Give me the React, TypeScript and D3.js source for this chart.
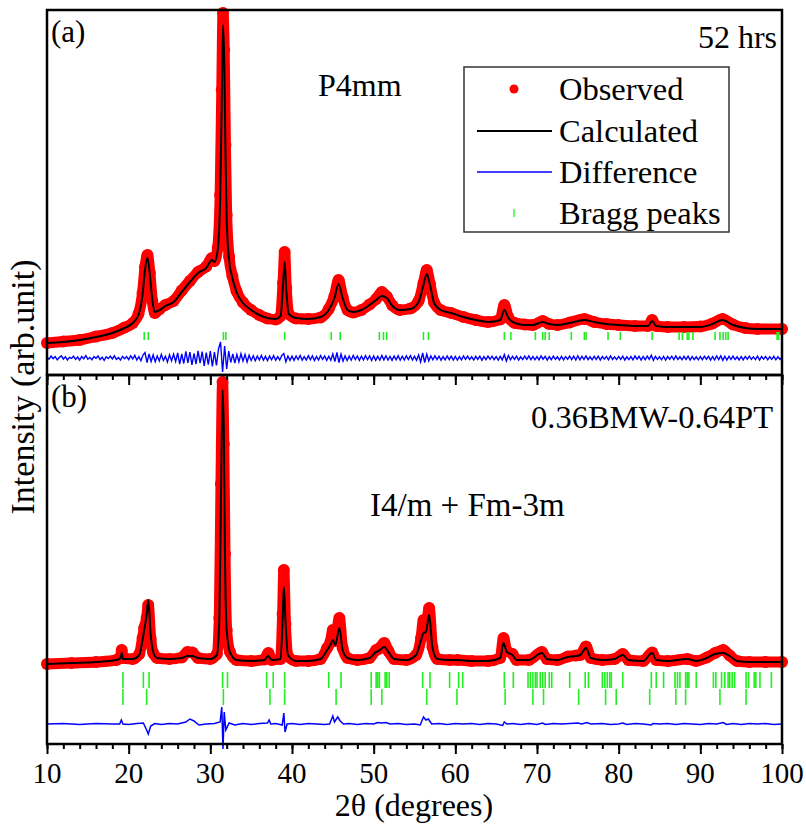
import React, { useEffect, useRef } from "react";
import * as d3 from "d3";

// ---------- DATA ----------
// [2θ, calculated, observed] for panel (a)
const topProfile: number[][] = [
  [10, 320, 320], [12, 330, 335], [14, 350, 350], [16, 380, 385], [18, 420, 420],
  [19.5, 470, 475], [20.5, 520, 520], [21.2, 600, 610], [21.7, 800, 820], [22.0, 1050, 1080],
  [22.3, 1170, 1200], [22.6, 1000, 1020], [22.9, 750, 740], [23.2, 630, 620], [23.8, 650, 660],
  [24.5, 690, 700], [25.5, 730, 740], [26.5, 830, 845], [27.5, 930, 940], [28.5, 1020, 1030],
  [29.5, 1070, 1085], [30.2, 1150, 1170], [30.5, 1130, 1140], [30.9, 1250, 1270], [31.2, 1750, 1800],
  [31.4, 2750, 2850], [31.55, 3500, 3620], [31.7, 3150, 3250], [31.85, 2250, 2300], [32.0, 1550, 1600],
  [32.3, 1150, 1180], [32.7, 970, 990], [33.2, 830, 840], [34, 720, 725], [35, 650, 650],
  [36, 600, 600], [37, 570, 565], [38, 560, 555], [38.6, 590, 590], [38.9, 900, 920],
  [39.1, 1130, 1230], [39.3, 850, 870], [39.6, 610, 610], [40.5, 570, 565], [42, 560, 560],
  [43.5, 580, 575], [44.5, 650, 660], [45.2, 770, 790], [45.7, 910, 950], [46.2, 770, 780],
  [46.8, 650, 650], [47.5, 630, 625], [48.5, 650, 650], [49.5, 700, 705], [50.3, 750, 760],
  [51.0, 790, 830], [51.6, 770, 785], [52.3, 690, 695], [53.2, 650, 650], [54.5, 660, 665],
  [55.5, 730, 740], [56.1, 900, 920], [56.5, 1010, 1050], [56.9, 900, 910], [57.4, 720, 725],
  [58.2, 650, 650], [59.5, 620, 620], [61, 580, 580], [62.5, 550, 550], [64, 530, 530],
  [65.5, 550, 555], [66.0, 650, 700], [66.5, 570, 575], [67.3, 520, 520], [68.5, 500, 505],
  [69.5, 500, 500], [70.7, 530, 540], [71.5, 510, 510], [72.5, 500, 500], [74, 520, 525],
  [75.8, 550, 560], [77, 530, 530], [78.5, 510, 510], [80, 500, 500], [82, 490, 490],
  [83.6, 490, 490], [84.1, 540, 550], [84.6, 490, 490], [86, 480, 480], [88, 480, 480],
  [90, 480, 485], [91.5, 510, 515], [92.7, 550, 560], [94, 500, 505], [95.5, 470, 470],
  [97, 460, 460], [100, 460, 460],
];

// [2θ, calculated, observed] for panel (b)
const botProfile: number[][] = [
  [10, 800, 800], [13, 810, 810], [16, 820, 820], [18.5, 840, 840], [19.0, 860, 870],
  [19.15, 910, 940], [19.3, 850, 860], [20.5, 850, 850], [21.3, 890, 900], [21.7, 1040, 1060],
  [21.9, 1140, 1160], [22.2, 1290, 1260], [22.4, 1440, 1390], [22.7, 1090, 1050], [23.0, 920, 910],
  [23.5, 860, 860], [25, 850, 850], [26.5, 860, 865], [27.2, 880, 920], [27.8, 880, 915],
  [28.5, 860, 860], [30, 850, 850], [30.8, 890, 900], [31.1, 1240, 1260], [31.3, 2440, 2600],
  [31.5, 3540, 3620], [31.65, 3140, 3000], [31.8, 1840, 1900], [32.0, 1140, 1140], [32.4, 920, 920],
  [33.2, 840, 840], [35, 830, 830], [36.6, 840, 845], [37.1, 880, 910], [37.5, 840, 840],
  [38.6, 850, 850], [38.85, 1240, 1300], [39.0, 1570, 1740], [39.2, 1240, 1200], [39.5, 890, 880],
  [40.5, 830, 830], [42, 830, 830], [43.5, 850, 850], [44.3, 940, 960], [44.7, 990, 1020],
  [45.0, 1040, 1140], [45.3, 990, 1030], [45.8, 1160, 1260], [46.2, 940, 960], [46.8, 860, 860],
  [48, 840, 840], [49.5, 860, 860], [50.3, 920, 940], [50.6, 930, 950], [51.3, 970, 1010],
  [51.8, 920, 930], [52.5, 850, 850], [54, 840, 840], [55.2, 890, 890], [55.8, 1040, 1060],
  [56.1, 1110, 1240], [56.4, 1120, 1170], [56.8, 1290, 1360], [57.2, 960, 970], [57.8, 850, 850],
  [59.3, 840, 840], [60.3, 840, 840], [62, 830, 830], [64, 830, 830], [65.5, 860, 860],
  [65.9, 1010, 1060], [66.3, 920, 930], [67.0, 890, 900], [67.5, 840, 840], [69, 840, 840],
  [70.6, 910, 920], [71.2, 850, 850], [72.5, 840, 840], [73.8, 870, 875], [74.8, 880, 885],
  [75.3, 890, 890], [76.0, 960, 975], [76.6, 860, 860], [78, 840, 840], [79.5, 850, 850],
  [80.5, 890, 900], [81.2, 840, 840], [83, 830, 830], [84.1, 910, 915], [84.6, 840, 840],
  [86, 830, 830], [88.4, 850, 850], [89.5, 830, 830], [90.8, 860, 865], [91.8, 900, 910],
  [92.8, 910, 940], [93.6, 880, 885], [94.5, 830, 830], [96, 820, 820], [98, 820, 820],
  [100, 820, 820],
];

// Difference curve, panel (a): 2θ = 10, 10.25, ... 100 (one row per 5°)
const topDiff: number[] = [
  8, -12, 20, -6, 14, -18, 4, 22, -10, 12, -20, 6, -4, 18, -14, 10, -22, 16, -8, 24,
  -12, 6, -18, 14, -2, 20, -16, 8, -24, 12, -6, 18, -10, 22, -14, 4, -20, 16, -8, 14,
  -16, 22, -10, 26, -20, 14, -28, 30, 55, -45, 40, -35, 30, -38, 20, -30, 36, -24, 18, -40,
  32, -28, 38, -34, 50, -62, 40, -55, 66, -48, 58, -70, 45, -60, 72, -52, 64, -78, 55, -66,
  70, -85, 60, -75, 90, 160, -140, 120, -110, 70, -45, 40, -50, 35, -38, 42, -30, 36, -40, 28,
  -25, 22, -28, 18, -20, 26, -22, 16, -26, 20, -18, 24, -22, 14, -20, 26, 45, -38, 20, -24,
  18, -24, 20, -16, 26, -22, 14, -20, 24, -18, 22, -26, 16, -20, 24, -14, 20, -24, 18, -22,
  40, -35, 55, -45, 38, -30, 22, -26, 18, -22, 26, -16, 20, -24, 18, -20, 24, -18, 22, -26,
  20, -24, 18, -22, 26, -18, 22, -20, 16, -24, 20, -18, 24, -22, 18, -20, 22, -16, 24, -20,
  18, -22, 30, -40, 50, -45, 38, -30, 20, -18, 22, -16, 18, -22, 14, -18, 20, -16, 18, -20,
  16, -20, 14, -18, 20, -14, 18, -16, 12, -20, 16, -14, 18, -22, 14, -16, 20, -12, 18, -16,
  14, -20, 16, -18, 35, -30, 25, -18, 16, -14, 18, -20, 12, -16, 18, -14, 20, -16, 14, -18,
  14, -18, 20, -12, 16, -20, 14, -16, 18, -14, 12, -20, 16, -18, 14, -12, 20, -16, 18, -20,
  22, -18, 16, -14, 20, -16, 12, -18, 16, -14, 18, -20, 14, -12, 16, -18, 20, -14, 12, -16,
  16, -14, 18, -20, 12, -16, 14, -18, 20, -12, 16, -20, 14, -16, 18, -14, 28, -24, 16, -14,
  12, -18, 16, -20, 14, -12, 18, -16, 20, -14, 12, -18, 16, -14, 18, -20, 14, -16, 12, -18,
  14, -16, 18, -12, 16, -20, 14, -18, 20, -16, 22, -24, 18, -20, 16, -14, 18, -16, 12, -20,
  14, -18, 16, -12, 18, -14, 12, -16, 18, -20, 14, -12, 16, -18, 12, -14, 16, -18, 12, -14,
  10,
];

// Difference curve, panel (b): [2θ, value]
const botDiff: number[][] = [
  [10, 0], [12, 5], [14, -5], [16, 5], [18, 0], [18.9, 0], [19.1, 40], [19.3, 0], [20, -5],
  [21, 5], [21.8, 10], [22.2, -60], [22.4, -100], [22.7, -20], [23.2, 5], [24, -5], [25, 5],
  [26, 0], [27, 20], [27.5, 50], [28, 30], [28.6, -10], [29.5, 0], [30.5, 5], [31.2, 20],
  [31.4, 170], [31.55, -250], [31.7, 120], [31.9, -60], [32.3, 10], [33, -10], [34, 5], [35, -5],
  [36, 5], [37, 10], [37.2, 40], [37.4, 0], [38, 5], [38.8, -10], [39.0, 110], [39.15, -80],
  [39.4, 0], [40, 5], [41, -5], [42, 5], [43, 0], [44, -5], [44.6, 0], [45.0, 80], [45.2, 20],
  [45.6, 70], [45.9, 30], [46.3, 0], [47, 5], [48, -5], [49, 5], [50, 0], [50.5, 15], [51, 10],
  [51.5, 15], [52, 0], [53, 5], [54, -5], [55, 0], [55.7, -10], [56.1, 70], [56.4, 40],
  [56.7, 50], [57.1, 0], [58, 5], [59, -5], [60, 5], [61, 0], [62, 5], [63, -5], [64, 5],
  [65, 0], [65.8, -15], [66.0, 20], [66.3, 0], [67, 5], [68, -5], [69, 5], [70, -5], [70.7, 10],
  [71, -5], [72, 5], [73, 0], [74, 5], [75, 10], [75.5, 0], [76.1, 15], [76.6, 0], [78, 5],
  [79, -5], [80, 0], [80.5, 10], [81, -5], [82, 5], [83, 0], [84, -10], [84.2, 5], [85, 0],
  [86, 5], [87, -5], [88, 5], [89, 0], [90, -5], [91, 5], [92, 0], [92.8, 15], [93.2, -5],
  [94, 5], [95, -5], [96, 5], [97, 0], [98, 5], [99, -5], [100, 0],
];

const topBragg: number[] = [
  21.9, 22.4, 31.6, 31.9, 39.1, 44.8, 45.9, 50.7, 51.2, 51.6, 56.1, 56.7, 66.0, 66.8, 69.8,
  70.7, 71.0, 71.5, 74.2, 75.8, 76.0, 78.7, 80.2, 84.1, 87.4, 87.8, 88.4, 88.6, 89.1, 91.8,
  92.4, 92.8, 93.1, 93.4, 99.4, 99.6,
];
const botBragg1: number[] = [
  19.3, 21.8, 22.5, 31.5, 32.1, 36.9, 37.7, 39.1, 44.5, 46.0, 49.7, 50.3, 50.5, 50.7, 51.4,
  51.6, 51.9, 56.0, 56.9, 59.3, 60.4, 60.9, 66.0, 67.1, 68.9, 69.2, 69.5, 69.8, 70.0, 70.4,
  70.7, 71.0, 71.5, 71.8, 74.0, 75.9, 76.3, 78.0, 78.3, 78.6, 78.9, 79.1, 80.5, 84.0, 84.6,
  85.5, 86.9, 87.2, 87.5, 88.2, 88.4, 88.6, 89.5, 91.6, 91.9, 92.6, 93.0, 93.4, 93.6, 93.9,
  94.2, 95.6, 95.9, 96.6, 96.8, 97.3, 98.7,
];
const botBragg2: number[] = [
  19.3, 22.2, 31.6, 37.3, 39.1, 45.4, 49.7, 51.0, 56.5, 60.2, 66.1, 69.5, 70.8, 75.1, 78.4,
  79.7, 83.8, 87.0, 88.2, 92.4, 95.6,
];

const xTickLabels: number[] = [10, 20, 30, 40, 50, 60, 70, 80, 90, 100];
const legendLabels: string[] = ["Observed", "Calculated", "Difference", "Bragg peaks"];

// ---------- LAYOUT ----------
const W = 806, H = 828;
const L = 47, R = 782, T = 10, MID = 375, B = 744;
const FONT = "'Liberation Serif', 'Times New Roman', Times, serif";
const TOP_DIFF_OFFSET = 170;
const BOT_DIFF_OFFSET = 200;

export default function App() {
  const ref = useRef<SVGSVGElement>(null);

  useEffect(() => {
    const svg = d3.select(ref.current);
    svg.selectAll("*").remove();

    const x = d3.scaleLinear().domain([10, 100]).range([L, R]);
    const yTop = d3.scaleLinear().domain([0, 3650]).range([MID, T]);
    const yBot = d3.scaleLinear().domain([0, 3690]).range([B, MID]);

    const drawPanel = (
      profile: number[][],
      y: d3.ScaleLinear<number, number>,
      diff: number[][],
      diffOffset: number,
      diffWidth: number,
      braggRows: { vals: number[]; y0: number; y1: number }[]
    ) => {
      const g = svg.append("g");
      const obsLine = d3
        .line<number[]>()
        .x((d) => x(d[0]))
        .y((d) => y(d[2]))
        .curve(d3.curveMonotoneX);
      g.append("path")
        .attr("d", obsLine(profile) as string)
        .attr("fill", "none")
        .attr("stroke", "#ff0000")
        .attr("stroke-width", 11)
        .attr("stroke-linejoin", "round")
        .attr("stroke-linecap", "round");
      g.selectAll("circle.obs")
        .data(profile)
        .enter()
        .append("circle")
        .attr("class", "obs")
        .attr("cx", (d) => x(d[0]))
        .attr("cy", (d) => y(d[2]))
        .attr("r", 6)
        .attr("fill", "#ff0000");
      const calcLine = d3
        .line<number[]>()
        .x((d) => x(d[0]))
        .y((d) => y(d[1]))
        .curve(d3.curveMonotoneX);
      g.append("path")
        .attr("d", calcLine(profile) as string)
        .attr("fill", "none")
        .attr("stroke", "#000")
        .attr("stroke-width", 2);
      braggRows.forEach((row) => {
        g.selectAll(null)
          .data(row.vals)
          .enter()
          .append("line")
          .attr("x1", (d) => x(d))
          .attr("x2", (d) => x(d))
          .attr("y1", row.y0)
          .attr("y2", row.y1)
          .attr("stroke", "#22ee22")
          .attr("stroke-width", 1.6);
      });
      const diffLine = d3
        .line<number[]>()
        .x((d) => x(d[0]))
        .y((d) => y(d[1] + diffOffset));
      g.append("path")
        .attr("d", diffLine(diff) as string)
        .attr("fill", "none")
        .attr("stroke", "#0000ff")
        .attr("stroke-width", diffWidth);
    };

    const topDiffPts = topDiff.map((v, i) => [10 + i * 0.25, v]);

    drawPanel(topProfile, yTop, topDiffPts, TOP_DIFF_OFFSET, 1.4, [
      { vals: topBragg, y0: 332, y1: 340 },
    ]);
    drawPanel(botProfile, yBot, botDiff, BOT_DIFF_OFFSET, 1.5, [
      { vals: botBragg1, y0: 672, y1: 688 },
      { vals: botBragg2, y0: 689, y1: 705 },
    ]);

    // frames
    [
      [T, MID],
      [MID, B],
    ].forEach(([a, b]) => {
      svg
        .append("rect")
        .attr("x", L)
        .attr("y", a)
        .attr("width", R - L)
        .attr("height", b - a)
        .attr("fill", "none")
        .attr("stroke", "#000")
        .attr("stroke-width", 2.5);
    });

    // ticks
    [MID, B].forEach((yy) => {
      const minor = d3
        .axisBottom(x)
        .tickValues(d3.range(10, 101, 2))
        .tickSize(5)
        .tickFormat(() => "");
      const major = d3
        .axisBottom(x)
        .tickValues(xTickLabels)
        .tickSize(10)
        .tickFormat(() => "");
      const gm = svg.append("g").attr("transform", `translate(0,${yy})`).call(minor);
      gm.select(".domain").remove();
      gm.selectAll("line").attr("stroke-width", 2);
      const gM = svg.append("g").attr("transform", `translate(0,${yy})`).call(major);
      gM.select(".domain").remove();
      gM.selectAll("line").attr("stroke-width", 2);
    });

    svg
      .selectAll("text.xl")
      .data(xTickLabels)
      .enter()
      .append("text")
      .attr("class", "xl")
      .attr("x", (d) => x(d))
      .attr("y", 783)
      .attr("text-anchor", "middle")
      .attr("font-family", FONT)
      .attr("font-size", 29)
      .text((d) => String(d));

    const txt = (s: string, tx: number, ty: number, size: number, anchor = "start") =>
      svg
        .append("text")
        .attr("x", tx)
        .attr("y", ty)
        .attr("font-family", FONT)
        .attr("font-size", size)
        .attr("text-anchor", anchor)
        .attr("fill", "#000")
        .text(s);

    txt("(a)", 51, 42, 31);
    txt("52 hrs", 777, 48, 32, "end");
    txt("P4mm", 318, 96, 32);
    txt("(b)", 51, 407, 31);
    txt("0.36BMW-0.64PT", 773, 428, 32.5, "end");
    txt("I4/m + Fm-3m", 370, 516, 33);
    txt("2θ (degrees)", 414, 816, 32, "middle");
    svg
      .append("text")
      .attr("transform", "translate(34,387) rotate(-90)")
      .attr("text-anchor", "middle")
      .attr("font-family", FONT)
      .attr("font-size", 34)
      .text("Intensity (arb.unit)");

    // legend
    const lg = svg.append("g");
    lg.append("rect")
      .attr("x", 464)
      .attr("y", 67)
      .attr("width", 265)
      .attr("height", 165)
      .attr("fill", "#fff")
      .attr("stroke", "#333")
      .attr("stroke-width", 1.5);
    const rowsY = [89, 131, 172, 213];
    lg.append("circle").attr("cx", 514).attr("cy", rowsY[0]).attr("r", 4.5).attr("fill", "#ff0000");
    lg.append("line").attr("x1", 477).attr("x2", 552).attr("y1", rowsY[1]).attr("y2", rowsY[1]).attr("stroke", "#000").attr("stroke-width", 2);
    lg.append("line").attr("x1", 477).attr("x2", 552).attr("y1", rowsY[2]).attr("y2", rowsY[2]).attr("stroke", "#0000ff").attr("stroke-width", 1.3);
    lg.append("line").attr("x1", 514).attr("x2", 514).attr("y1", rowsY[3] - 4).attr("y2", rowsY[3] + 4).attr("stroke", "#22ee22").attr("stroke-width", 1.3);
    legendLabels.forEach((s, i) => {
      lg.append("text")
        .attr("x", 559)
        .attr("y", rowsY[i] + 11)
        .attr("font-family", FONT)
        .attr("font-size", 32.5)
        .text(s);
    });
  }, []);

  return (
    <svg
      ref={ref}
      width={W}
      height={H}
      style={{ position: "absolute", left: 0, top: 0, background: "#fff" }}
    />
  );
}
